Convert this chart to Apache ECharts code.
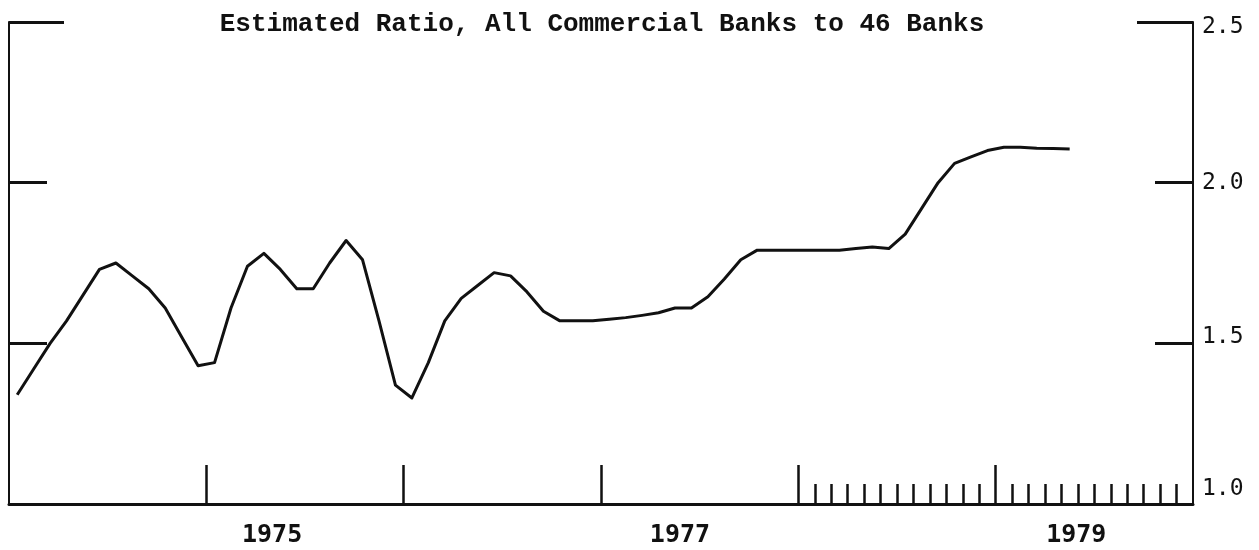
<!DOCTYPE html>
<html>
<head>
<meta charset="utf-8">
<script src="https://cdn.jsdelivr.net/npm/echarts@6/dist/echarts.min.js"></script>
<style>
  html, body { margin: 0; padding: 0; background: #fff; }
  #chart { width: 1259px; height: 550px; }
</style>
</head>
<body>
<div id="chart"></div>
<script>
const titleText = 'Estimated Ratio, All Commercial Banks to 46 Banks';

// monthly values, Jan 1974 .. May 1979
const startYear = 1974;
const ratio = [
  1.34, 1.42, 1.50, 1.57, 1.65, 1.73, 1.75, 1.71, 1.67, 1.61, 1.52, 1.43,
  1.44, 1.61, 1.74, 1.78, 1.73, 1.67, 1.67, 1.75, 1.82, 1.76, 1.57, 1.37,
  1.33, 1.44, 1.57, 1.64, 1.68, 1.72, 1.71, 1.66, 1.60, 1.57, 1.57, 1.57,
  1.575, 1.58, 1.587, 1.595, 1.61, 1.61, 1.645, 1.70, 1.76, 1.79, 1.79, 1.79,
  1.79, 1.79, 1.79, 1.795, 1.80, 1.795, 1.84, 1.92, 2.00, 2.06, 2.08, 2.10,
  2.11, 2.11, 2.107, 2.106, 2.105
];

const yearLabels = ['1975', '1977', '1979'];
const yTickLabels = ['1.0', '1.5', '2.0', '2.5'];

const monthsShown = 72; // Jan 1974 .. Dec 1979
const majorTicks = [12, 24, 36, 48, 60];
const minorTicks = [];
for (let m = 49; m < monthsShown; m++) {
  if (m !== 60) minorTicks.push(m);
}
// where the year names sit under the axis (in months from Jan 1974)
const yearLabelAt = [16, 40.8, 64.9];

const ink = '#111';
const chart = echarts.init(document.getElementById('chart'));

function yAxisBase(position, ticks, tickLen, showLine) {
  return {
    type: 'value',
    position: position,
    min: 1,
    max: 2.5,
    interval: 0.5,
    splitLine: { show: false },
    axisLine: { show: showLine, lineStyle: { color: ink, width: 2 } },
    axisTick: {
      show: true,
      inside: true,
      length: tickLen,
      customValues: ticks,
      lineStyle: { color: ink, width: 3 }
    },
    axisLabel: { show: false }
  };
}

const rightAxis = yAxisBase('right', [1.5, 2.0], 38, true);
rightAxis.axisLabel = {
  show: true,
  margin: 9,
  color: ink,
  fontFamily: 'DejaVu Sans Mono',
  fontSize: 23,
  formatter: (v) => {
    const label = yTickLabels[Math.round((v - 1) / 0.5)];
    if (v === 1) return '{lo|' + label + '}';
    if (v === 1.5) return '{up|' + label + '}';
    if (v === 2.5) return '{dn|' + label + '}';
    return '{mid|' + label + '}';
  },
  rich: {
    lo: { fontFamily: 'DejaVu Sans Mono', fontSize: 23, color: ink, padding: [0, 0, 30, 0] },
    up: { fontFamily: 'DejaVu Sans Mono', fontSize: 23, color: ink, padding: [0, 0, 12, 0] },
    mid: { fontFamily: 'DejaVu Sans Mono', fontSize: 23, color: ink },
    dn: { fontFamily: 'DejaVu Sans Mono', fontSize: 23, color: ink, padding: [10, 0, 0, 0] }
  }
};

const option = {
  animation: false,
  backgroundColor: '#fff',
  title: {
    text: titleText,
    left: 597,
    top: 6,
    textAlign: 'center',
    textStyle: {
      fontFamily: 'Liberation Mono',
      fontSize: 26,
      fontWeight: 'bold',
      color: ink
    }
  },
  grid: { left: 9, right: 66, top: 22, bottom: 46 },
  xAxis: [
    {
      type: 'value',
      min: 0,
      max: monthsShown,
      splitLine: { show: false },
      axisLine: { show: true, onZero: false, lineStyle: { color: ink, width: 3 } },
      axisTick: {
        show: true,
        inside: true,
        length: 39,
        customValues: majorTicks,
        lineStyle: { color: ink, width: 2.5 }
      },
      axisLabel: {
        show: true,
        customValues: yearLabelAt,
        margin: 19,
        color: ink,
        fontFamily: 'DejaVu Sans Mono',
        fontWeight: 'bold',
        fontSize: 25,
        formatter: (v) => yearLabels[yearLabelAt.indexOf(v)] || ''
      }
    },
    {
      type: 'value',
      position: 'bottom',
      min: 0,
      max: monthsShown,
      splitLine: { show: false },
      axisLine: { show: false },
      axisTick: {
        show: true,
        inside: true,
        length: 20,
        customValues: minorTicks,
        lineStyle: { color: ink, width: 2.5 }
      },
      axisLabel: { show: false }
    }
  ],
  yAxis: [
    yAxisBase('left', [1.5, 2.0], 38, true),
    yAxisBase('left', [2.5], 55, false),
    rightAxis,
    yAxisBase('right', [2.5], 56, false)
  ],
  series: [
    {
      type: 'line',
      xAxisIndex: 0,
      yAxisIndex: 0,
      showSymbol: false,
      symbol: 'none',
      lineStyle: { color: ink, width: 3, join: 'round' },
      data: ratio.map((v, i) => [i + 0.5, v])
    }
  ]
};

chart.setOption(option);
</script>
</body>
</html>
